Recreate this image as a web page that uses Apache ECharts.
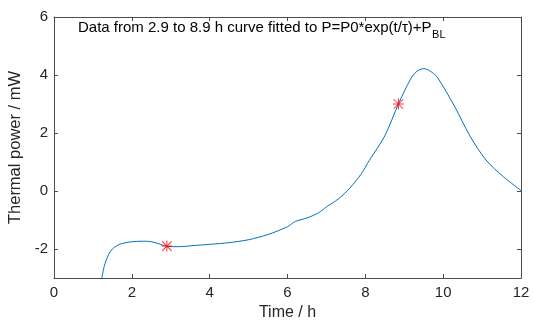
<!DOCTYPE html>
<html><head><meta charset="utf-8">
<script src="https://cdn.jsdelivr.net/npm/echarts@6/dist/echarts.min.js"></script>
<style>html,body{margin:0;padding:0;background:#fff}#c{width:535px;height:320px}</style>
</head><body><div id="c"></div>
<script>
const timeH = [1.23, 1.3, 1.4, 1.5, 1.6, 1.7, 1.85, 2.0, 2.3, 2.5, 2.7, 2.9, 3.2, 3.6, 4.0, 4.5, 5.0, 5.5, 6.0, 6.2, 6.5, 6.8, 7.0, 7.3, 7.6, 7.9, 8.1, 8.5, 8.85, 9.15, 9.3, 9.5, 9.65, 9.85, 10.3, 10.7, 11.1, 11.55, 12.0];
const powerMW = [-3, -2.55, -2.2, -2.0, -1.9, -1.83, -1.78, -1.75, -1.73, -1.75, -1.82, -1.91, -1.92, -1.88, -1.84, -1.78, -1.68, -1.5, -1.23, -1.05, -0.93, -0.75, -0.55, -0.28, 0.1, 0.6, 1.05, 1.9, 3.0, 3.83, 4.1, 4.22, 4.15, 3.92, 2.9, 1.87, 1.07, 0.49, 0.02];
const markTime = [2.9, 8.85];
const markPower = [-1.9, 3.0];
const yTicks = [-2, 0, 2, 4, 6];
const titleMain = 'Data from 2.9 to 8.9 h curve fitted to P=P0*exp(t/\u03c4)+P';
const titleSub = 'BL';

const ctx = document.createElement('canvas').getContext('2d');
ctx.font = '15px "Liberation Sans"';
const mainW = ctx.measureText(titleMain).width;

const axisCol = '#4d4d4d';
const labCol = '#262626';
const chart = echarts.init(document.getElementById('c'), null, {renderer: 'canvas'});
chart.setOption({
  animation: false,
  grid: {left: 54, right: 14, top: 17, bottom: 42, containLabel: false, outerBoundsMode: 'none'},
  xAxis: [{
    type: 'value', min: 0, max: 12, interval: 2,
    name: 'Time / h', nameLocation: 'middle', nameGap: 22,
    nameTextStyle: {fontFamily: 'Liberation Sans', fontSize: 16, color: labCol},
    axisLine: {show: true, onZero: false, lineStyle: {color: axisCol, width: 1}},
    axisTick: {show: true, inside: true, length: 4, lineStyle: {color: axisCol}},
    axisLabel: {fontFamily: 'Liberation Sans', fontSize: 15, color: labCol, margin: 7},
    splitLine: {show: false}
  }, {
    type: 'value', min: 0, max: 12, interval: 2, position: 'top',
    axisLine: {show: true, onZero: false, lineStyle: {color: axisCol, width: 1}},
    axisTick: {show: true, inside: true, length: 4, lineStyle: {color: axisCol}},
    axisLabel: {show: false}, splitLine: {show: false}
  }],
  yAxis: [{
    type: 'value', min: -3, max: 6,
    name: 'Thermal power / mW', nameLocation: 'middle', nameGap: 23,
    nameTextStyle: {fontFamily: 'Liberation Sans', fontSize: 16.5, color: labCol},
    axisLine: {show: true, onZero: false, lineStyle: {color: axisCol, width: 1}},
    axisTick: {show: true, inside: true, length: 4, customValues: yTicks, lineStyle: {color: axisCol}},
    axisLabel: {fontFamily: 'Liberation Sans', fontSize: 15, color: labCol, margin: 6, customValues: yTicks},
    splitLine: {show: false}
  }, {
    type: 'value', min: -3, max: 6, position: 'right',
    axisLine: {show: true, onZero: false, lineStyle: {color: axisCol, width: 1}},
    axisTick: {show: true, inside: true, length: 4, customValues: yTicks, lineStyle: {color: axisCol}},
    axisLabel: {show: false}, splitLine: {show: false}
  }],
  series: [{
    type: 'line', data: timeH.map((t, i) => [t, powerMW[i]]),
    showSymbol: false, smooth: 0.3,
    lineStyle: {color: '#0072BD', width: 1}, z: 2
  }, {
    type: 'scatter', data: markTime.map((t, i) => [t, markPower[i]]),
    symbol: 'path://M0,4.55H10V5.45H0Z M4.55,0H5.45V10H4.55Z M0.35,1.0L1.0,0.35L9.65,9.0L9.0,9.65Z M9.0,0.35L9.65,1.0L1.0,9.65L0.35,9.0Z',
    symbolSize: 11, itemStyle: {color: '#ff0000'}, z: 3
  }],
  graphic: [{
    type: 'text', left: 78, top: 20,
    style: {text: titleMain, font: '15px "Liberation Sans"', fill: '#000'}
  }, {
    type: 'text', left: 78 + mainW + 0.5, top: 29,
    style: {text: titleSub, font: '11px "Liberation Sans"', fill: '#000'}
  }]
});
</script></body></html>
